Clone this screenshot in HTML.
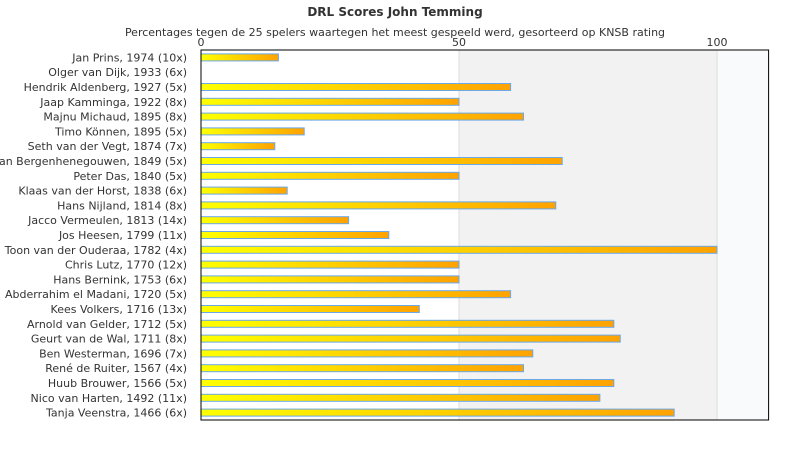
<!DOCTYPE html>
<html><head><meta charset="utf-8"><style>
body{margin:0;background:#fff;font-family:"Liberation Sans","DejaVu Sans",sans-serif;}
svg text{font-family:"DejaVu Sans","Liberation Sans",sans-serif;}
</style></head><body>
<svg id="c" width="790" height="450" xmlns="http://www.w3.org/2000/svg">
<defs><linearGradient id="g" x1="0" x2="1" y1="0" y2="0"><stop offset="0" stop-color="#ffff00"/><stop offset="1" stop-color="#ffa200"/></linearGradient></defs>
<text x="395" y="16" text-anchor="middle" font-size="12" font-weight="bold" fill="#333">DRL Scores John Temming</text>
<text x="395" y="36" text-anchor="middle" font-size="11" fill="#333">Percentages tegen de 25 spelers waartegen het meest gespeeld werd, gesorteerd op KNSB rating</text>
<g id="plot"></g>
</svg>
<script>
const categories=["Jan Prins, 1974 (10x)","Olger van Dijk, 1933 (6x)","Hendrik Aldenberg, 1927 (5x)","Jaap Kamminga, 1922 (8x)","Majnu Michaud, 1895 (8x)","Timo Können, 1895 (5x)","Seth van der Vegt, 1874 (7x)","Willem van Bergenhenegouwen, 1849 (5x)","Peter Das, 1840 (5x)","Klaas van der Horst, 1838 (6x)","Hans Nijland, 1814 (8x)","Jacco Vermeulen, 1813 (14x)","Jos Heesen, 1799 (11x)","Toon van der Ouderaa, 1782 (4x)","Chris Lutz, 1770 (12x)","Hans Bernink, 1753 (6x)","Abderrahim el Madani, 1720 (5x)","Kees Volkers, 1716 (13x)","Arnold van Gelder, 1712 (5x)","Geurt van de Wal, 1711 (8x)","Ben Westerman, 1696 (7x)","René de Ruiter, 1567 (4x)","Huub Brouwer, 1566 (5x)","Nico van Harten, 1492 (11x)","Tanja Veenstra, 1466 (6x)"];
const values=[15,0,60,50,62.5,20,14.3,70,50,16.7,68.75,28.6,36.4,100,50,50,60,42.3,80,81.25,64.3,62.5,80,77.3,91.7];
const ticks=[0,50,100];
const X0=201,XMAX=110,SC=5.16,TOP=50,BOT=420;
const x=v=>X0+v*SC;
const rowH=(BOT-TOP)/categories.length;
const y=i=>TOP+rowH*(i+0.5);
const ns="http://www.w3.org/2000/svg";
const p=document.getElementById('plot');
function mk(t,a){const e=document.createElementNS(ns,t);for(const k in a)e.setAttribute(k,a[k]);p.appendChild(e);return e;}
let e;
e=mk('rect',{x:x(50),y:TOP,width:x(100)-x(50),height:BOT-TOP,fill:'#f2f2f2'});


e=mk('rect',{x:x(100),y:TOP,width:x(XMAX)-x(100),height:BOT-TOP,fill:'#f8fafc'});


ticks.forEach(t=>{
 e=mk('line',{x1:x(t),x2:x(t),y1:TOP,y2:BOT,stroke:'#ddd'});
 
 
 e=mk('text',{x:x(t),y:TOP-4,'text-anchor':'middle','font-size':'11',fill:'#333'});
 e.textContent=t;
 
 
});
categories.forEach((c,i)=>{
 e=mk('text',{x:X0-14,y:y(i)+4,'text-anchor':'end','font-size':'11',fill:'#333'});
 e.textContent=c;
 
 
 if(values[i]>0){
  e=mk('rect',{x:X0,y:y(i)-3.5,width:x(values[i])-X0,height:7,fill:'url(#g)',stroke:'#6aa8e8','stroke-width':1});
  
  
 }
});
e=mk('rect',{x:X0,y:TOP,width:x(XMAX)-X0,height:BOT-TOP,fill:'none',stroke:'#000','stroke-width':1});


</script>
</body></html>
